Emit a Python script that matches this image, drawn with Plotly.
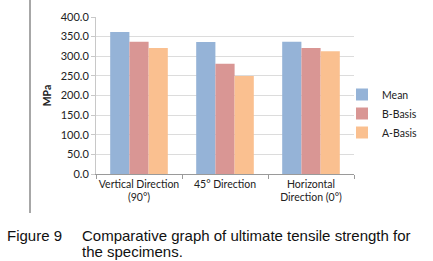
import plotly.graph_objects as go

categories = ["Vertical Direction<br>(90°)", "45° Direction", "Horizontal<br>Direction (0°)"]
series_names = ["Mean", "B-Basis", "A-Basis"]
mean_vals = [362.0, 336.0, 337.0]
bbasis_vals = [337.0, 281.0, 321.0]
abasis_vals = [321.0, 250.0, 313.0]
colors = ["#95B3D7", "#D99694", "#FAC090"]
y_ticks = [0, 50, 100, 150, 200, 250, 300, 350, 400]
y_tick_labels = [f"{v:.1f}" for v in y_ticks]

fig = go.Figure()
for name, vals, col in zip(series_names, [mean_vals, bbasis_vals, abasis_vals], colors):
    fig.add_trace(go.Bar(x=categories, y=vals, name=name, marker=dict(color=col, line=dict(width=0))))

W, H = 433, 261
L, R, T, B = 96, 79, 17, 87
pw, ph = W - L - R, H - T - B

def px(x):
    return (x - L) / pw

def py(y):
    return (H - B - y) / ph

FONT = "Lato, Open Sans, sans-serif"

fig.update_layout(
    width=W, height=H,
    margin=dict(l=L, r=R, t=T, b=B, autoexpand=False),
    paper_bgcolor="white", plot_bgcolor="white",
    barmode="group", bargap=0.33, bargroupgap=0,
    font=dict(family=FONT, size=10, color="#222"),
    showlegend=True,
    legend=dict(x=px(342), y=py(80), xanchor="left", yanchor="top",
                font=dict(family=FONT, size=10.5, color="#222"), itemwidth=30,
                tracegroupgap=0, bgcolor="rgba(0,0,0,0)"),
    xaxis=dict(showline=True, linecolor="#9a9a9a", linewidth=1, ticks="outside",
               tickson="boundaries", ticklen=4, tickcolor="#9a9a9a", tickangle=0,
               automargin=False,
               tickfont=dict(family=FONT, size=10.5, color="#222"), showgrid=False),
    yaxis=dict(range=[0, 400], tickvals=y_ticks, ticktext=y_tick_labels,
               showline=True, linecolor="#c8c8c8", linewidth=1, ticks="outside",
               ticklen=4, tickcolor="#c8c8c8", automargin=False,
               gridcolor="#dcdcdc", gridwidth=1, zeroline=False,
               tickfont=dict(family=FONT, size=11, color="#222"),
               title=dict(text="<b>MPa</b>", font=dict(family=FONT, size=10.5, color="#222"), standoff=6)),
)

fig.add_shape(type="line", xref="paper", yref="paper",
              x0=px(30), x1=px(30), y0=py(0), y1=py(213),
              line=dict(color="#8a8a8a", width=1.5))

CAP = dict(family="Arial, Liberation Sans, sans-serif", size=15, color="#111")
fig.add_annotation(xref="paper", yref="paper", x=px(6), y=py(235), xanchor="left", yanchor="middle",
                   text="Figure 9", showarrow=False, font=CAP, borderpad=0)
fig.add_annotation(xref="paper", yref="paper", x=px(81), y=py(235), xanchor="left", yanchor="middle",
                   text="Comparative graph of ultimate tensile strength for", showarrow=False, font=CAP, borderpad=0)
fig.add_annotation(xref="paper", yref="paper", x=px(81), y=py(252), xanchor="left", yanchor="middle",
                   text="the specimens.", showarrow=False, font=CAP, borderpad=0)

fig.write_html("out.html", config={"displayModeBar": False},
               post_script="document.body.style.margin='0px';document.body.style.padding='0px';")
